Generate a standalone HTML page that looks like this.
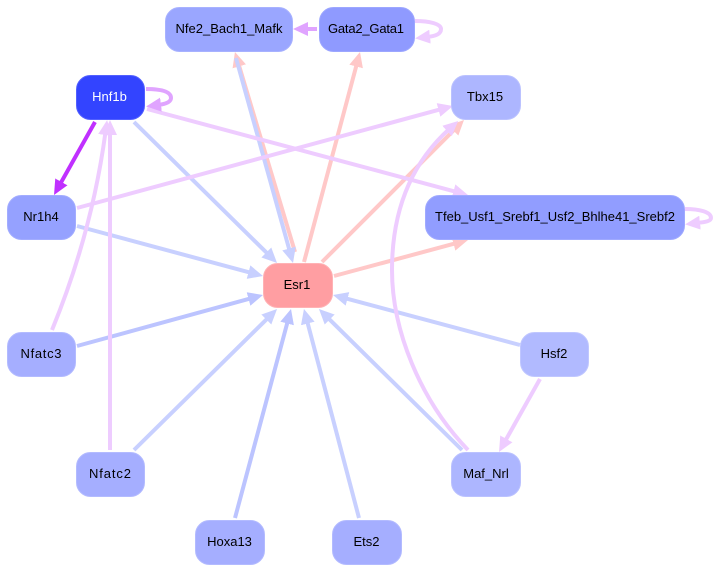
<!DOCTYPE html>
<html><head><meta charset="utf-8"><style>
html,body{margin:0;padding:0;background:#fff}
svg{display:block}
text{font-family:"Liberation Sans",sans-serif;font-size:13px;text-anchor:middle;fill:#000}
.n{stroke-width:1}
path,line{fill:none;stroke-width:4}
</style></head><body>
<svg width="716" height="572" viewBox="0 0 716 572" xmlns="http://www.w3.org/2000/svg">
<defs>
<marker id="b" markerUnits="userSpaceOnUse" markerWidth="16" markerHeight="14" refX="3" refY="7" orient="auto"><path d="M0 0L15 7L0 14z" style="fill:#c8d0ff;stroke:none"/></marker>
<marker id="b2" markerUnits="userSpaceOnUse" markerWidth="16" markerHeight="14" refX="3" refY="7" orient="auto"><path d="M0 0L15 7L0 14z" style="fill:#bcc4ff;stroke:none"/></marker>
<marker id="r" markerUnits="userSpaceOnUse" markerWidth="16" markerHeight="14" refX="3" refY="7" orient="auto"><path d="M0 0L15 7L0 14z" style="fill:#ffc8c8;stroke:none"/></marker>
<marker id="p" markerUnits="userSpaceOnUse" markerWidth="16" markerHeight="14" refX="3" refY="7" orient="auto"><path d="M0 0L15 7L0 14z" style="fill:#eeccff;stroke:none"/></marker>
<marker id="m" markerUnits="userSpaceOnUse" markerWidth="16" markerHeight="14" refX="3" refY="7" orient="auto"><path d="M0 0L15 7L0 14z" style="fill:#e0a4ff;stroke:none"/></marker>
<marker id="v" markerUnits="userSpaceOnUse" markerWidth="16" markerHeight="14" refX="3" refY="7" orient="auto"><path d="M0 0L15 7L0 14z" style="fill:#c030ff;stroke:none"/></marker>
</defs>
<g stroke="#ffc8c8">
<path d="M295 252L238.400 63.500" marker-end="url(#r)"/>
<path d="M304 262L356.900 63.600" marker-end="url(#r)"/>
<path d="M322 262L455.500 128.500" marker-end="url(#r)"/>
<path d="M334 276L456.400 243.100" marker-end="url(#r)"/>
</g>
<g stroke="#c8d0ff">
<path d="M236 58L289.800 251.400" marker-end="url(#b)"/>
<path d="M77 226L251.400 272.900" marker-end="url(#b)"/>
<path d="M134 122L268.500 254.600" marker-end="url(#b)"/>
<path d="M134 450L268.500 317.400" marker-end="url(#b)"/>
<path d="M359 518L307 320.600" marker-end="url(#b)"/>
<path d="M462 450L327.500 317.400" marker-end="url(#b)"/>
<path d="M520 345L344.600 298.100" marker-end="url(#b)"/>
</g>
<g stroke="#bcc4ff">
<path d="M77 346L251.400 298.200" marker-end="url(#b2)"/>
<path d="M235 518L287.900 320.600" marker-end="url(#b2)"/>
</g>
<g stroke="#eeccff">
<path d="M147 109L456.400 191.900" marker-end="url(#p)"/>
<path d="M77 208L441.400 109.100" marker-end="url(#p)"/>
<path d="M110 450L110 132" marker-end="url(#p)"/>
<path d="M52 330C80 262 97 195 105.500 132" marker-end="url(#p)"/>
<path d="M468 450C420 400 392 330 392 270C392 205 415 160 449.300 129" marker-end="url(#p)"/>
<path d="M540 379L504.900 441.500" marker-end="url(#p)"/>
<path d="M415 21C430 21 441 24 441 29C441 34 436 36 427 37" marker-end="url(#p)"/>
<path d="M685 209C700 209 711 212 711 218C711 221 706 222 697 223" marker-end="url(#p)"/>
</g>
<path d="M146 89C160 89 171 91 171 98C171 102 166 104 158 105" stroke="#e0a4ff" marker-end="url(#m)"/>
<path d="M317 29L305 29" stroke="#e0a4ff" marker-end="url(#m)"/>
<path d="M95 122L59.900 184.500" stroke="#c030ff" marker-end="url(#v)"/>
<g class="n">
<rect x="165.500" y="7.500" width="127" height="44" rx="14" fill="#9aa6ff" stroke="#a8b2ff"/>
<rect x="319.500" y="7.500" width="95" height="44" rx="14" fill="#8f9aff" stroke="#9da7ff"/>
<rect x="76.500" y="75.500" width="68" height="44" rx="14" fill="#3344ff" stroke="#5260ff"/>
<rect x="451.500" y="75.500" width="69" height="44" rx="14" fill="#adb6ff" stroke="#bbc2ff"/>
<rect x="7.500" y="195.500" width="68" height="44" rx="14" fill="#95a1ff" stroke="#a3adff"/>
<rect x="425.500" y="195.500" width="259" height="44" rx="14" fill="#919dff" stroke="#a0aaff"/>
<rect x="263.500" y="263.500" width="69" height="44" rx="14" fill="#ff9ea2" stroke="#ffb2b5"/>
<rect x="7.500" y="332.500" width="68" height="44" rx="14" fill="#a5aeff" stroke="#b3bbff"/>
<rect x="520.500" y="332.500" width="68" height="44" rx="14" fill="#b1baff" stroke="#c0c7ff"/>
<rect x="76.500" y="452.500" width="68" height="44" rx="14" fill="#a5aeff" stroke="#b3bbff"/>
<rect x="451.500" y="452.500" width="69" height="44" rx="14" fill="#adb6ff" stroke="#bbc2ff"/>
<rect x="195.500" y="520.500" width="69" height="44" rx="14" fill="#a5aeff" stroke="#b3bbff"/>
<rect x="332.500" y="520.500" width="69" height="44" rx="14" fill="#a5aeff" stroke="#b3bbff"/>
</g>
<text x="229" y="33">Nfe2_Bach1_Mafk</text>
<text x="366" y="33" textLength="76">Gata2_Gata1</text>
<text x="109.500" y="101" style="fill:#fff">Hnf1b</text>
<text x="485" y="101">Tbx15</text>
<text x="41" y="221">Nr1h4</text>
<text x="555" y="221">Tfeb_Usf1_Srebf1_Usf2_Bhlhe41_Srebf2</text>
<text x="297" y="289">Esr1</text>
<text x="41" y="358" textLength="41">Nfatc3</text>
<text x="554" y="358">Hsf2</text>
<text x="110" y="478" textLength="42">Nfatc2</text>
<text x="486" y="478">Maf_Nrl</text>
<text x="229.500" y="546">Hoxa13</text>
<text x="366.500" y="546">Ets2</text>
</svg>
</body></html>
